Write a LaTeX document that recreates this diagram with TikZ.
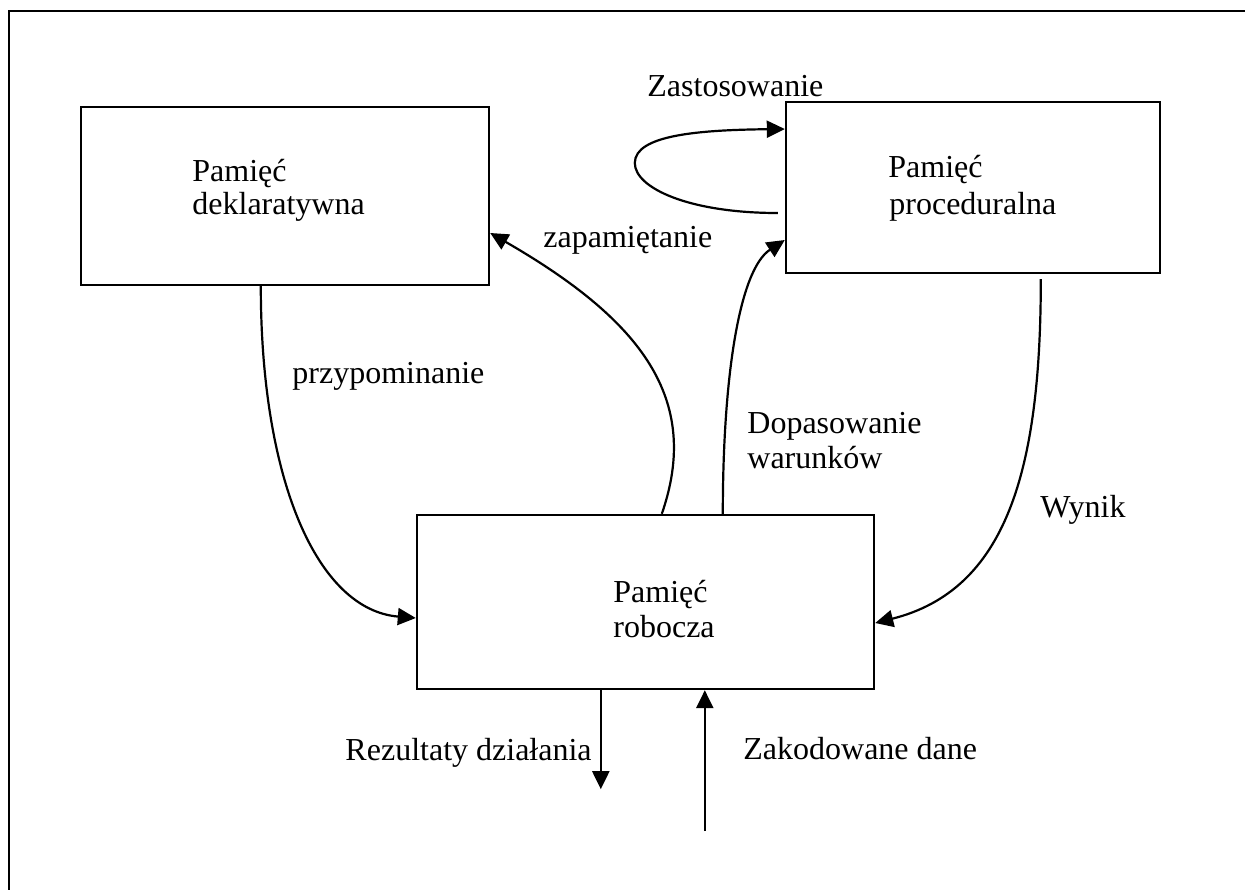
\documentclass[tikz,border=0pt]{standalone}
\usepackage{fontspec}
\setmainfont{Liberation Serif}
\usetikzlibrary{arrows.meta,calc}
\begin{document}
\begin{tikzpicture}[x=0.5pt,y=-0.5pt,
  box/.style={draw,line width=1.2pt,rectangle,inner sep=0pt},
  txt/.style={anchor=base west,inner sep=0pt,font=\fontsize{16pt}{18pt}\selectfont},
  txtr/.style={anchor=base east,inner sep=0pt,font=\fontsize{16pt}{18pt}\selectfont},
  conn/.style={line width=1.1pt,-{Triangle[length=9pt,width=8.5pt]}}]
\useasboundingbox (0,0) rectangle (1245,890);
% outer frame (only top and left visible)
\draw[line width=1.35pt] (1245,11) -- (9,11) -- (9,890);
% boxes
\node[box,minimum width=204pt,minimum height=89pt] (D) at (285,196) {};
\node[box,minimum width=187pt,minimum height=85.5pt] (P) at (973,187.5) {};
\node[box,minimum width=228.5pt,minimum height=87pt] (R) at (645.5,602) {};
% box texts
\node[txt] (d1) at (192,181) {Pamięć};
\node[txt] (d2) at (192,214) {deklaratywna};
\node[txt] (p1) at (888,177) {Pamięć};
\node[txt] (p2) at (889,214) {proceduralna};
\node[txt] (r1) at (613,602) {Pamięć};
\node[txt] (r2) at (613,637) {robocza};
% labels
\node[txt] (lz) at (647,96) {Zastosowanie};
\node[txt] (lzap) at (543,247) {zapamiętanie};
\node[txt] (lprz) at (292,383) {przypominanie};
\node[txt] (ld1) at (747,433) {Dopasowanie};
\node[txt] (ld2) at (747,468) {warunków};
\node[txt] (lw) at (1040,517) {Wynik};
\node[txtr] (lr) at (592,760) {Rezultaty działania};
\node[txt] (lk) at (743,759) {Zakodowane dane};
% connectors
\draw[conn] ($(D.south west)+(181,0)$) .. controls +(0,195) and +(-98,-8) .. ($(R.west)+(0,16)$);
\draw[conn] ($(R.north west)+(246,0)$) .. controls +(40,-115) and +(151,87) .. ($(D.east)+(0,37)$);
\draw[conn] ($(R.north west)+(307,0)$) .. controls +(0,-135) and +(-46,30) .. ($(P.west)+(0,52.5)$);
\draw[conn] ($(P.south west)+(256,5)$) .. controls +(0,192) and +(131,-33) .. ($(R.east)+(0,21)$);
\coordinate (loopl) at ($(P.west)+(-150,-24.5)$);
\draw[conn] ($(P.west)+(-7,25.5)$) .. controls +(-89,0) and +(0,25) .. (loopl)
   .. controls +(0,-28) and +(-86,1) .. ($(P.west)+(0,-58.5)$);
\coordinate (outend) at ($(R.south west)+(185,99)$);
\coordinate (instart) at ($(R.south west)+(289,141)$);
\draw[conn] ($(R.south west)+(185,0)$) -- (outend);
\draw[conn] (instart) -- ($(R.south west)+(289,0)$);
\end{tikzpicture}
\end{document}
